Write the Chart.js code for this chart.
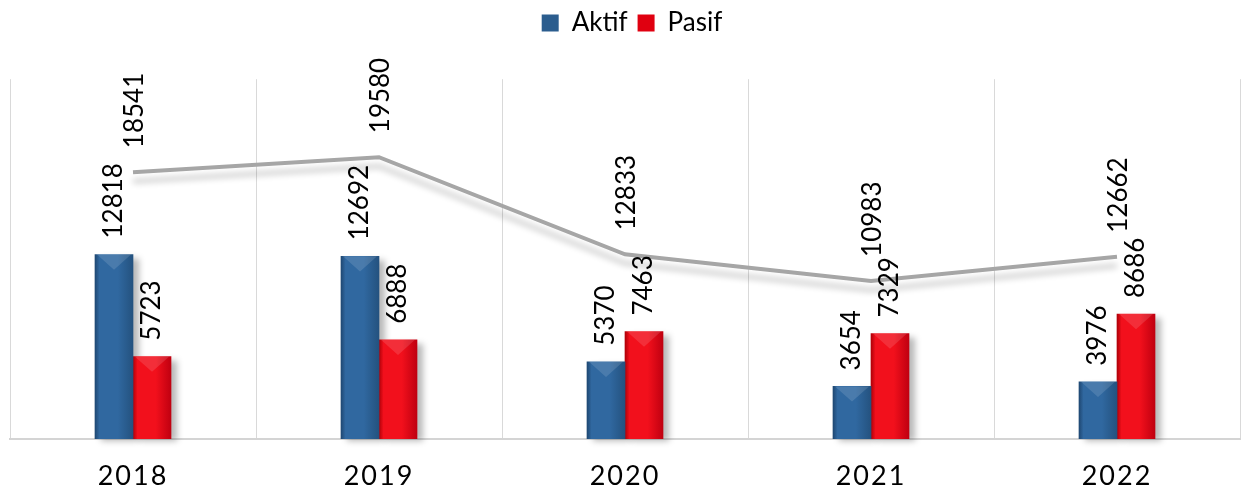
<!DOCTYPE html>
<html><head><meta charset="utf-8">
<script src="https://cdn.jsdelivr.net/npm/chart.js"></script>
<style>html,body{margin:0;padding:0;background:#fff}</style>
</head><body>
<canvas id="c" width="1242" height="488"></canvas>
<script>
const categories = ['2018', '2019', '2020', '2021', '2022'];
const aktifValues = [12818, 12692, 5370, 3654, 3976];
const pasifValues = [5723, 6888, 7463, 7329, 8686];
const totalValues = [18541, 19580, 12833, 10983, 12662];
const seriesNames = ['Aktif', 'Pasif', 'Toplam'];

const FONT = 'Lato';
const BLUE = ['#1f4873', '#3068a0', '#24527f'];
const RED = ['#b00008', '#f2101c', '#c00010'];

const barStyle = {
  id: 'barStyle',
  afterLayout(chart) {
    const s = chart.scales.x;
    if (!s._lsWrapped) {
      const orig = s.drawLabels.bind(s);
      s.drawLabels = function (area) {
        const ctx = chart.ctx;
        ctx.save();
        ctx.letterSpacing = '2px';
        orig(area);
        ctx.restore();
      };
      s._lsWrapped = true;
    }
    if (chart.legend) {
      chart.legend.left += 7;
      chart.legend.right += 7;
    }
  },
  beforeDatasetsDraw(chart) {
    const ctx = chart.ctx;
    ctx.save();
    ctx.filter = 'blur(3px)';
    ctx.fillStyle = 'rgba(0,0,0,0.28)';
    [0, 1].forEach(di => {
      chart.getDatasetMeta(di).data.forEach(el => {
        const w = el.width;
        ctx.fillRect(el.x - w / 2 + 6, el.y + 4, w, el.base - el.y - 2);
      });
    });
    ctx.restore();
  },
  beforeDatasetDraw(chart, args) {
    const ctx = chart.ctx;
    if (args.index < 2) {
      const cols = args.index === 0 ? BLUE : RED;
      args.meta.data.forEach(el => {
        const w = el.width;
        const g = ctx.createLinearGradient(el.x - w / 2, 0, el.x + w / 2, 0);
        g.addColorStop(0, cols[0]);
        g.addColorStop(0.12, cols[1]);
        g.addColorStop(0.6, cols[1]);
        g.addColorStop(1, cols[2]);
        el.options.backgroundColor = g;
      });
    } else {
      ctx.save();
      ctx.shadowColor = 'rgba(0,0,0,0.22)';
      ctx.shadowBlur = 6;
      ctx.shadowOffsetY = 9;
    }
  },
  afterDatasetDraw(chart, args) {
    const ctx = chart.ctx;
    if (args.index < 2) {
      ctx.save();
      ctx.fillStyle = 'rgba(255,255,255,0.13)';
      args.meta.data.forEach(el => {
        const w = el.width;
        ctx.beginPath();
        ctx.moveTo(el.x - w / 2 + 2, el.y);
        ctx.lineTo(el.x + w / 2 - 2, el.y);
        ctx.lineTo(el.x, el.y + w * 0.4);
        ctx.closePath();
        ctx.fill();
      });
      ctx.restore();
    } else {
      ctx.restore();
    }
  },
  afterDatasetsDraw(chart) {
    const ctx = chart.ctx;
    ctx.save();
    ctx.font = '26px ' + FONT;
    ctx.fillStyle = '#000';
    ctx.textAlign = 'left';
    ctx.textBaseline = 'middle';
    chart.data.datasets.forEach((ds, di) => {
      const off = di < 2 ? 16 : 24;
      chart.getDatasetMeta(di).data.forEach((el, i) => {
        ctx.save();
        ctx.translate(el.x + (di < 2 ? 0 : 2), el.y - off);
        ctx.rotate(-Math.PI / 2);
        ctx.fillText(String(ds.data[i]), 0, 0);
        ctx.restore();
      });
    });
    ctx.restore();
  }
};

new Chart(document.getElementById('c'), {
  data: {
    labels: categories,
    datasets: [
      { type: 'bar', label: seriesNames[0], data: aktifValues, backgroundColor: () => '#2b5d8e', borderWidth: 0, barThickness: 38 },
      { type: 'bar', label: seriesNames[1], data: pasifValues, backgroundColor: () => '#e00010', borderWidth: 0, barThickness: 38 },
      { type: 'line', label: seriesNames[2], data: totalValues, borderColor: '#a6a6a6', borderWidth: 4, pointRadius: 0, tension: 0, fill: false }
    ]
  },
  options: {
    responsive: false,
    animation: false,
    devicePixelRatio: 1,
    layout: { padding: { left: 10, right: 2, top: 0, bottom: -26 } },
    plugins: {
      legend: {
        position: 'top',
        labels: {
          filter: item => item.datasetIndex < 2,
          font: { family: FONT, size: 26 },
          color: '#000',
          boxWidth: 17, boxHeight: 17, padding: 10
        }
      },
      title: { display: true, text: ' ', weight: 500, font: { size: 1 }, padding: { top: 32, bottom: 0 }, color: 'rgba(0,0,0,0)' },
      tooltip: { enabled: false }
    },
    scales: {
      x: {
        grid: { color: c => (c.index >= 5 ? 'rgba(0,0,0,0)' : '#d9d9d9'), lineWidth: 1, drawTicks: false, offset: true },
        border: { display: true, color: '#d4d4d4', width: 2 },
        ticks: { font: { family: FONT, size: 27, lineHeight: 1 }, color: '#000', padding: 24 }
      },
      y: { display: false, min: 0, max: 25000 }
    }
  },
  plugins: [barStyle]
});
</script>
</body></html>
